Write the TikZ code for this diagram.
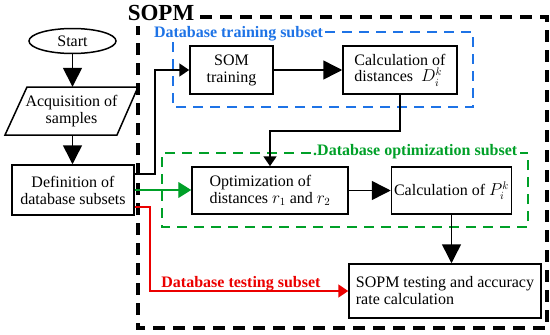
\documentclass[tikz,border=0pt]{standalone}
\usepackage{fontspec}
\setmainfont{Liberation Serif}
\usetikzlibrary{arrows.meta,shapes.geometric,calc}
\definecolor{myblue}{RGB}{30,115,230}
\definecolor{mygreen}{RGB}{0,160,40}
\definecolor{myred}{RGB}{235,0,0}
\begin{document}
\begin{tikzpicture}[x=1pt,y=-1pt,
  font=\fontsize{16}{17}\selectfont,
  box/.style={draw, line width=1.5pt, inner sep=0pt, align=center},
  conn/.style={line width=1.5pt},
  bigtip/.style={-{Triangle[length=19pt,width=19pt]}},
  smalltip/.style={-{Triangle[length=10pt,width=13pt]}},
  greentip/.style={-{Triangle[length=13pt,width=16pt]}},
  lbl/.style={font=\bfseries\fontsize{16}{17}\selectfont, inner sep=0pt},
  groupbox/.style={line width=2.7pt, dash pattern=on 10pt off 7pt}]
\useasboundingbox (0,0) rectangle (550,335);

% group labels
\node[font=\bfseries\fontsize{23}{24}\selectfont, inner sep=0pt, anchor=base] (sopm) at (161,20) {SOPM};
\node[lbl, text=myblue, anchor=base] (lblue) at (238.5,37) {Database training subset};
\node[lbl, text=mygreen, anchor=base west] (lgreen) at (313,155) {.Database optimization subset};
\node[lbl, text=myred, anchor=base] (lred) at (241,287) {Database testing subset};

% group boxes
\draw[line width=3.2pt, dash pattern=on 12pt off 8pt]
  (200,17) -- (547,17) -- (547,328) -- (138,328) -- (138,26);
\draw[groupbox, draw=myblue]
  (325,32) -- (473,32) -- (473,107) -- (173,107) -- (173,42);
\draw[groupbox, draw=mygreen]
  (311,153) -- (162,153) -- (162,227) -- (528,227) -- (528,153) -- (520,153);

% left column
\node[draw, ellipse, line width=1.5pt, minimum width=87pt, minimum height=25pt, inner sep=0pt] (start) at (72.5,41) {Start};
\node[inner sep=0pt, minimum width=112pt, minimum height=48pt, align=center] (acq) at (71.5,111) {Acquisition of\\samples};
\draw[line width=1.5pt] ($(acq.center)+(-44.5,-24)$) -- ($(acq.center)+(66.5,-24)$)
  -- ($(acq.center)+(45.5,24)$) -- ($(acq.center)+(-66.5,24)$) -- cycle;
\node[box, minimum width=122pt, minimum height=50pt] (def) at (73,190) {Definition of\\database subsets};

% SOPM boxes
\node[box, minimum width=83pt, minimum height=48pt] (som) at (231.5,70) {SOM\\training};
\node[box, minimum width=114pt, minimum height=48pt, align=left] (cald) at (400,70) {Calculation of\\distances\enspace$D_i^k$};
\node[box, minimum width=156pt, minimum height=47pt, align=left] (opt) at (270,190.5) {Optimization of\\distances $r_1$ and $r_2$};
\node[box, minimum width=120pt, minimum height=47pt] (calp) at (451.5,190.5) {Calculation of $P_i^k$};
\node[box, minimum width=192pt, minimum height=54pt, align=left] (test) at (445,291) {SOPM testing and accuracy\\rate calculation};

% connectors
\draw[conn, bigtip] (start.south) -- (start.south |- acq.north);
\draw[conn, bigtip] (acq.south -| start.south) -- (start.south |- def.north);
\draw[conn, smalltip] ([yshift=16pt]def.east) -- ++(20,0) |- (som.west);
\draw[line width=1.2pt, draw=mygreen, greentip] (def.east) -- (def.east -| opt.west);
\draw[conn, draw=myred, smalltip] ([yshift=-17pt]def.east) -- ++(15,0) |- (test.west);
\draw[conn, bigtip] (som.east) -- (cald.west);
\draw[conn, smalltip] (cald.south) -- ++(0,36) -| (opt.north);
\draw[conn, bigtip] (opt.east) -- (calp.west);
\draw[conn, bigtip] (calp.south) -- (calp.south |- test.north);
\end{tikzpicture}
\end{document}
